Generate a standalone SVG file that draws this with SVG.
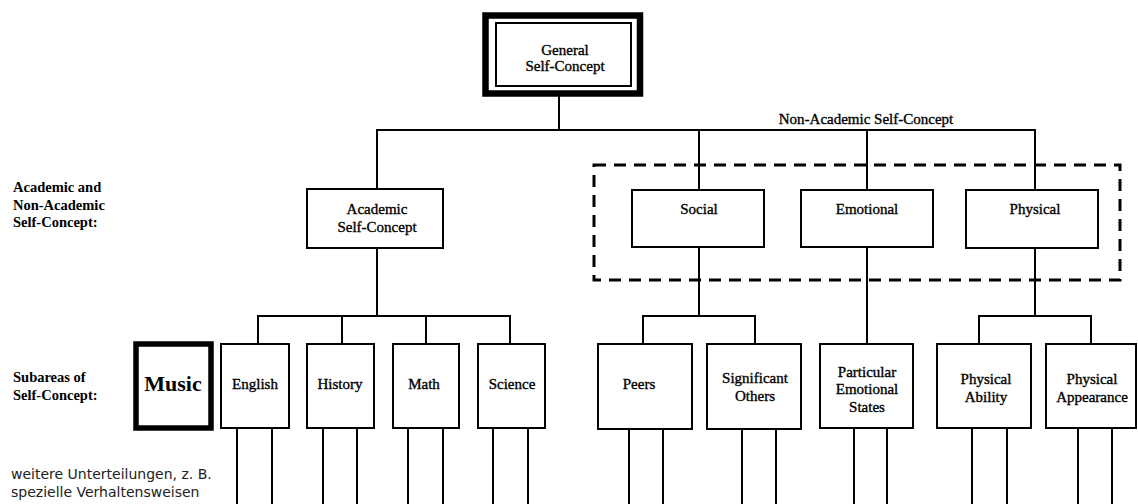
<svg xmlns="http://www.w3.org/2000/svg" width="1138" height="504" viewBox="0 0 1138 504">
<style>
  .box { fill: #fff; stroke: #000; stroke-width: 2; }
  .lbl { font-family: "Liberation Serif", "Times New Roman", serif; font-size: 15px; fill: #000; stroke: #000; stroke-width: 0.35; text-anchor: middle; }
  .side { font-family: "Liberation Serif", "Times New Roman", serif; font-size: 14.5px; font-weight: bold; fill: #000; }
  .note { font-family: "DejaVu Sans", Verdana, sans-serif; font-size: 14px; fill: #222; }
  .conn line { stroke: #000; stroke-width: 2; fill: none; }
  .dash { fill: none; stroke: #000; stroke-width: 3; stroke-dasharray: 12 8; }
</style>
<rect width="1138" height="504" fill="#fff"/>

<rect id="nonacademic-group" class="dash" x="594" y="165" width="526" height="115"/>

<g id="connectors" class="conn">
  <line x1="559" y1="87" x2="559" y2="130"/>
  <line x1="376" y1="130" x2="1036" y2="130"/>
  <line x1="377" y1="130" x2="377" y2="189"/>
  <line x1="699" y1="130" x2="699" y2="190"/>
  <line x1="867" y1="130" x2="867" y2="190"/>
  <line x1="1035" y1="130" x2="1035" y2="190"/>
  <line x1="377" y1="248" x2="377" y2="316"/>
  <line x1="257" y1="316" x2="511" y2="316"/>
  <line x1="258" y1="316" x2="258" y2="344"/>
  <line x1="342" y1="316" x2="342" y2="344"/>
  <line x1="426" y1="316" x2="426" y2="344"/>
  <line x1="510" y1="316" x2="510" y2="344"/>
  <line x1="699" y1="247" x2="699" y2="316"/>
  <line x1="642" y1="316" x2="756" y2="316"/>
  <line x1="643" y1="316" x2="643" y2="344"/>
  <line x1="755" y1="316" x2="755" y2="344"/>
  <line x1="867" y1="247" x2="867" y2="344"/>
  <line x1="1035" y1="248" x2="1035" y2="316"/>
  <line x1="978" y1="316" x2="1092" y2="316"/>
  <line x1="979" y1="316" x2="979" y2="344"/>
  <line x1="1091" y1="316" x2="1091" y2="344"/>
  <line x1="237" y1="428" x2="237" y2="504"/>
  <line x1="272" y1="428" x2="272" y2="504"/>
  <line x1="323" y1="428" x2="323" y2="504"/>
  <line x1="357" y1="428" x2="357" y2="504"/>
  <line x1="408" y1="428" x2="408" y2="504"/>
  <line x1="443" y1="428" x2="443" y2="504"/>
  <line x1="493" y1="428" x2="493" y2="504"/>
  <line x1="528" y1="428" x2="528" y2="504"/>
  <line x1="629" y1="428" x2="629" y2="504"/>
  <line x1="663" y1="428" x2="663" y2="504"/>
  <line x1="742" y1="428" x2="742" y2="504"/>
  <line x1="776" y1="428" x2="776" y2="504"/>
  <line x1="854" y1="428" x2="854" y2="504"/>
  <line x1="887" y1="428" x2="887" y2="504"/>
  <line x1="972" y1="428" x2="972" y2="504"/>
  <line x1="1007" y1="428" x2="1007" y2="504"/>
  <line x1="1078" y1="428" x2="1078" y2="504"/>
  <line x1="1112" y1="428" x2="1112" y2="504"/>
</g>

<g id="general">
  <rect x="485.5" y="15.5" width="154.5" height="78" fill="#fff" stroke="#000" stroke-width="6.5"/>
  <rect class="box" x="496" y="23" width="135" height="63"/>
  <text class="lbl" x="565" y="55">General</text>
  <text class="lbl" x="565" y="71">Self-Concept</text>
</g>

<g id="academic">
  <rect class="box" x="307" y="189" width="136" height="59"/>
  <text class="lbl" x="377" y="214">Academic</text>
  <text class="lbl" x="377" y="232">Self-Concept</text>
</g>

<g id="social">
  <rect class="box" x="632" y="190" width="132" height="57"/>
  <text class="lbl" x="699" y="214">Social</text>
</g>
<g id="emotional">
  <rect class="box" x="801" y="190" width="132" height="57"/>
  <text class="lbl" x="867" y="214">Emotional</text>
</g>
<g id="physical">
  <rect class="box" x="966" y="190" width="132" height="58"/>
  <text class="lbl" x="1035" y="214">Physical</text>
</g>

<text id="nonacademic-label" class="lbl" x="866" y="124">Non-Academic Self-Concept</text>

<g id="side-labels">
  <text class="side" x="13" y="192">Academic and</text>
  <text class="side" x="13" y="210">Non-Academic</text>
  <text class="side" x="13" y="227">Self-Concept:</text>
  <text class="side" x="13" y="382">Subareas of</text>
  <text class="side" x="13" y="400">Self-Concept:</text>
</g>

<g id="music">
  <rect x="136" y="344" width="75" height="84" fill="#fff" stroke="#000" stroke-width="5.5"/>
  <text x="173" y="391" font-family="Liberation Serif, Times New Roman, serif" font-size="22" font-weight="bold" text-anchor="middle">Music</text>
</g>
<g id="english">
  <rect class="box" x="221" y="344" width="68" height="84"/>
  <text class="lbl" x="255" y="389">English</text>
</g>
<g id="history">
  <rect class="box" x="307" y="344" width="67" height="84"/>
  <text class="lbl" x="340" y="389">History</text>
</g>
<g id="math">
  <rect class="box" x="393" y="344" width="66" height="84"/>
  <text class="lbl" x="424" y="389">Math</text>
</g>
<g id="science">
  <rect class="box" x="478" y="344" width="67" height="84"/>
  <text class="lbl" x="512" y="389">Science</text>
</g>
<g id="peers">
  <rect class="box" x="598" y="344" width="94" height="85"/>
  <text class="lbl" x="639" y="389">Peers</text>
</g>
<g id="significant-others">
  <rect class="box" x="707" y="344" width="94" height="85"/>
  <text class="lbl" x="755" y="383">Significant</text>
  <text class="lbl" x="755" y="401">Others</text>
</g>
<g id="emotional-states">
  <rect class="box" x="820" y="344" width="93" height="84"/>
  <text class="lbl" x="867" y="377">Particular</text>
  <text class="lbl" x="867" y="394">Emotional</text>
  <text class="lbl" x="867" y="412">States</text>
</g>
<g id="physical-ability">
  <rect class="box" x="937" y="344" width="94" height="84"/>
  <text class="lbl" x="986" y="384">Physical</text>
  <text class="lbl" x="986" y="402">Ability</text>
</g>
<g id="physical-appearance">
  <rect class="box" x="1046" y="344" width="90" height="84"/>
  <text class="lbl" x="1092" y="384">Physical</text>
  <text class="lbl" x="1092" y="402">Appearance</text>
</g>

<g id="note">
  <text class="note" x="11" y="479">weitere Unterteilungen, z. B.</text>
  <text class="note" x="11" y="497">spezielle Verhaltensweisen</text>
</g>
</svg>
